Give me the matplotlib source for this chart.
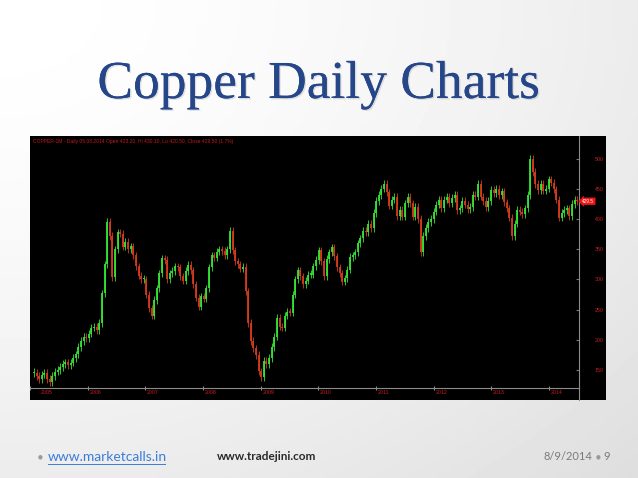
import numpy as np
import matplotlib
matplotlib.use("Agg")
import matplotlib.pyplot as plt
import matplotlib.transforms as mtransforms
import matplotlib.patheffects as pe
from matplotlib.lines import Line2D

# copper closes, roughly evenly spaced from early 2005 to mid 2014
closes_2005_06 = [145, 140, 135, 142, 145, 135, 130, 140, 147, 150, 155, 160, 163, 158,
                  162, 170, 176, 188, 198, 205, 203, 210, 220, 222, 216, 228, 277, 325,
                  395, 372, 304, 350, 378, 376, 354, 362, 350, 355, 340, 322, 306, 300]
closes_2007_08 = [300, 275, 252, 240, 266, 285, 310, 335, 332, 300, 310, 314, 322, 320,
                  305, 298, 314, 324, 315, 292, 270, 255, 272, 268, 285, 320, 340, 336,
                  346, 350, 347, 340, 350, 380, 348, 330, 325, 318, 321, 280, 228, 198, 186]
closes_2009_10 = [175, 148, 138, 165, 160, 170, 188, 205, 236, 222, 220, 240, 246, 245,
                  275, 300, 315, 305, 292, 298, 308, 308, 322, 332, 348, 330, 305, 334,
                  345, 353, 338, 320, 310, 296, 302, 316, 337, 340, 345, 360, 368, 380]
closes_2011_12 = [378, 392, 385, 410, 430, 440, 450, 458, 444, 422, 432, 437, 405, 415,
                  404, 426, 437, 426, 404, 420, 400, 345, 372, 385, 395, 400, 412, 424,
                  432, 418, 432, 437, 426, 435, 440, 415, 418, 430, 424, 416, 420, 440]
closes_2013_14 = [437, 458, 437, 430, 420, 430, 448, 443, 450, 440, 446, 428, 418, 402,
                  372, 392, 415, 412, 408, 418, 440, 500, 478, 458, 448, 458, 447, 450,
                  466, 460, 449, 432, 402, 410, 415, 418, 405, 425, 432, 429.5]

years = [2005, 2006, 2007, 2008, 2009, 2010, 2011, 2012, 2013, 2014]
price_ticks = [150, 200, 250, 300, 350, 400, 450, 500]
header = "COPPER-1M - Daily 05.08.2014 Open 423.20, Hi 430.10, Lo 420.50, Close 429.50 (1.7%)"

closes = np.array(closes_2005_06 + closes_2007_08 + closes_2009_10
                  + closes_2011_12 + closes_2013_14, dtype=float)

W, H = 638, 478
def fx(px):
    return px / W
def fy(py):
    return 1 - py / H

fig = plt.figure(figsize=(W / 100, H / 100), dpi=100)

# slide background, white fading to light grey at the bottom right
bg = fig.add_axes([0, 0, 1, 1])
gx, gy = np.meshgrid(np.linspace(0, 1, 200), np.linspace(0, 1, 150))
g = np.clip(np.hypot(gx, gy) / np.sqrt(2), 0, 1)
bg.imshow(1 - 0.13 * g ** 1.6, cmap='gray', vmin=0, vmax=1,
          extent=[0, 1, 0, 1], origin='upper', aspect='auto')
bg.axis('off')

fig.text(0.5, fy(98), 'Copper Daily Charts', fontsize=38.5, family='Liberation Serif',
         color='#26468a', ha='center', va='baseline',
         path_effects=[pe.withSimplePatchShadow(offset=(1, -1), shadow_rgbFace='#888888', alpha=0.25),
                       pe.Normal()])

# black chart panel
panel = fig.add_axes([fx(30), fy(400), fx(606) - fx(30), fy(136) - fy(400)])
panel.set_facecolor('black')
panel.set_xticks([])
panel.set_yticks([])
for s in panel.spines.values():
    s.set_visible(False)

ax = fig.add_axes([fx(30), fy(388), fx(579) - fx(30), fy(136) - fy(388)])
ax.set_facecolor('none')

t = np.linspace(2005.07, 2014.49, len(closes))
prev = np.r_[closes[0], closes[:-1]]
lo = np.minimum(prev, closes)
hi = np.maximum(np.maximum(prev, closes), lo + 2)
colors = np.where(closes >= prev, '#33e633', '#d93a1c')
ax.vlines(t, lo - 6, hi + 6, colors=colors, linewidth=0.6)
ax.vlines(t, lo, hi, colors=colors, linewidth=1.3)

ax.set_xlim(2005.0, 2014.52)
ax.set_ylim(120.2, 537.5)

for side in ['top', 'left']:
    ax.spines[side].set_visible(False)
for side in ['right', 'bottom']:
    ax.spines[side].set_color('#8c8c8c')
    ax.spines[side].set_linewidth(0.8)
ax.plot([1, 1], [0, -12 / 252], transform=ax.transAxes, color='#8c8c8c', lw=0.8, clip_on=False)

ax.yaxis.tick_right()
ax.set_yticks(price_ticks)
ax.set_yticklabels([str(p) for p in price_ticks], color='#c81e1e', fontsize=3.8,
                   family='Liberation Sans')
ax.tick_params(axis='y', direction='in', length=2, color='#777777', pad=11.5)

ax.set_xticks(years)
ax.set_xticklabels([])
ax.tick_params(axis='x', direction='inout', length=3, color='#8c8c8c')
trans = mtransforms.blended_transform_factory(ax.transData, ax.transAxes)
for y in years:
    ax.text(max(y, 2005.15) + 0.03, -0.016, str(y), transform=trans, ha='left', va='center',
            color='#c81e1e', fontsize=3.8, family='Liberation Sans')

# last price marker
ptrans = mtransforms.blended_transform_factory(ax.transAxes, ax.transData)
ax.text(1.006, closes[-1], f'{closes[-1]:.1f}', transform=ptrans, ha='left', va='center',
        color='white', fontsize=3.4, family='Liberation Sans', clip_on=False,
        bbox=dict(boxstyle='larrow,pad=0.25', fc='#f01414', ec='none'))

fig.text(fx(33), fy(141), header, color='#c41a1a', fontsize=3.6, va='center',
         family='Liberation Sans')

# footer
fig.text(fx(40), fy(457), '\u25cf', color='#9a9a9a', fontsize=4, ha='center', va='center')
fig.text(fx(48), fy(457), 'www.marketcalls.in', color='#3b7dd8', fontsize=10,
         family='Lato', va='center')
fig.add_artist(Line2D([fx(48), fx(165)], [fy(464), fy(464)], color='#3b7dd8', lw=0.7))
fig.text(fx(217), fy(457), 'www.tradejini.com', color='#2a2a2a', fontsize=8.5,
         family='Lato', fontweight='bold', va='center')
fig.text(fx(592), fy(457), '8/9/2014', color='#7a7a7a', fontsize=8, family='Lato',
         ha='right', va='center')
fig.text(fx(598), fy(457), '\u25cf', color='#9a9a9a', fontsize=4, ha='center', va='center')
fig.text(fx(603), fy(457), '9', color='#7a7a7a', fontsize=8, family='Lato', va='center')

fig.savefig('out.png', dpi=100)
